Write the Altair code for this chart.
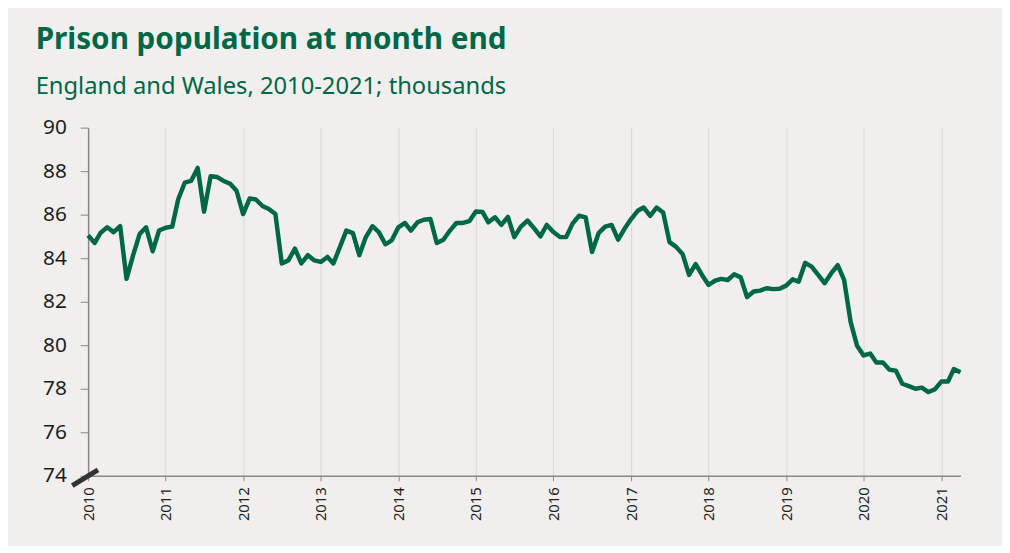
import altair as alt
import pandas as pd

# Month-end prison population, England and Wales (thousands), Jan 2010 - Apr 2021
start_month = "2010-01"
values = [
    # 2010
    85.05, 84.70, 85.17, 85.42, 85.20, 85.47, 83.05, 84.14, 85.12, 85.42, 84.32, 85.27,
    # 2011
    85.40, 85.45, 86.70, 87.47, 87.55, 88.15, 86.14, 87.77, 87.73, 87.55, 87.42, 87.10,
    # 2012
    86.03, 86.75, 86.70, 86.40, 86.26, 86.03, 83.76, 83.90, 84.44, 83.76, 84.14, 83.90,
    # 2013
    83.83, 84.06, 83.76, 84.52, 85.27, 85.15, 84.14, 84.97, 85.47, 85.20, 84.64, 84.82,
    # 2014
    85.42, 85.62, 85.27, 85.65, 85.77, 85.80, 84.70, 84.85, 85.27, 85.62, 85.62, 85.70,
    # 2015
    86.15, 86.13, 85.65, 85.88, 85.53, 85.90, 84.97, 85.45, 85.73, 85.39, 85.00, 85.53,
    # 2016
    85.20, 84.97, 84.97, 85.60, 85.95, 85.88, 84.29, 85.15, 85.45, 85.53, 84.85, 85.35,
    # 2017
    85.80, 86.18, 86.33, 85.95, 86.33, 86.10, 84.74, 84.52, 84.18, 83.23, 83.73, 83.23,
    # 2018
    82.77, 82.97, 83.05, 83.00, 83.26, 83.12, 82.21, 82.47, 82.51, 82.62, 82.58, 82.60,
    # 2019
    82.74, 83.03, 82.92, 83.79, 83.61, 83.23, 82.85, 83.30, 83.68, 83.00, 81.06, 79.98,
    # 2020
    79.53, 79.62, 79.21, 79.21, 78.88, 78.83, 78.23, 78.12, 78.00, 78.05, 77.85, 77.97,
    # 2021
    78.33, 78.33, 78.91, 78.76,
]
y_ticks = [74, 76, 78, 80, 82, 84, 86, 88, 90]

months = pd.date_range(start=start_month + "-01", periods=len(values), freq="MS")
df = pd.DataFrame({"date": months.strftime("%Y/%m/%d"), "value": values})

GREEN = "#006747"
BG = "#F0EFED"

x_enc = alt.X(
    "date:T",
    title=None,
    scale=alt.Scale(domain=[alt.DateTime(year=2010, month=1, date=1),
                            alt.DateTime(year=2021, month=4, date=1)]),
    axis=alt.Axis(
        format="%Y",
        tickCount={"interval": "year", "step": 1},
        labelAngle=-90,
        labelFontSize=15,
        labelFont="Noto Sans",
        labelColor="#222222",
        labelPadding=6,
        tickSize=5,
        tickColor="#888888",
        domainColor="#888888",
        domainWidth=1.5,
        grid=True,
        gridColor="#D9D9D9",
        gridWidth=1,
    ),
)

y_enc = alt.Y(
    "value:Q",
    title=None,
    scale=alt.Scale(domain=[74, 90], nice=False, zero=False),
    axis=alt.Axis(
        values=y_ticks,
        grid=False,
        labelFontSize=21,
        labelFont="Noto Sans",
        labelColor="#1D1D1D",
        labelPadding=14,
        tickSize=8,
        tickColor="#888888",
        domainColor="#888888",
        domainWidth=1.5,
    ),
)

line = alt.Chart(df).mark_line(
    color=GREEN, strokeWidth=4.5, strokeJoin="round"
).encode(x=x_enc, y=y_enc)

# axis-break marker at the bottom-left corner
brk = alt.Chart(df.head(1)).mark_rule(
    color="#333333", strokeWidth=5
).encode(
    x=alt.value(-16), x2=alt.value(10), y=alt.value(362), y2=alt.value(346)
)

chart = alt.layer(line, brk).properties(
    width=882,
    height=352,
    background=BG,
    padding={"left": 27, "top": 14, "right": 39, "bottom": 22},
    title=alt.TitleParams(
        text="Prison population at month end",
        subtitle="England and Wales, 2010-2021; thousands",
        anchor="start",
        frame="bounds",
        dx=-7,
        font="Noto Sans",
        fontSize=30,
        fontWeight="bold",
        color=GREEN,
        subtitleFont="Noto Sans",
        subtitleFontSize=24,
        subtitleColor=GREEN,
        subtitlePadding=21,
        offset=18,
    ),
).configure_view(stroke=None)

chart.save("out.html", embed_options={"renderer": "svg", "actions": False})
